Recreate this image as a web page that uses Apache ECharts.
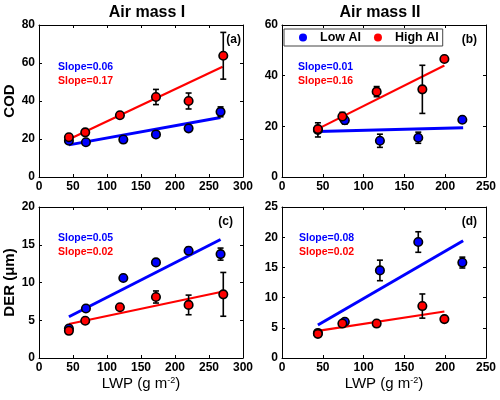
<!DOCTYPE html>
<html><head><meta charset="utf-8">
<script src="https://cdn.jsdelivr.net/npm/echarts@6/dist/echarts.min.js"></script>
<style>html,body{margin:0;padding:0;background:#fff}#c{width:500px;height:400px}</style>
</head><body><div id="c"></div>
<script>
// ---------- data ----------
const panelTitles = ['Air mass I', 'Air mass II'];
const panelTags = ['(a)', '(b)', '(c)', '(d)'];
const yNames = ['COD', 'DER (\u03bcm)'];
const seriesNames = ['Low AI', 'High AI'];

// Panel (a) COD, air mass I
const lowX_a = [44, 69, 124, 172, 220, 267];
const lowY_a = [19.1, 18.3, 19.7, 22.4, 25.6, 34.3];
const lowE_a = [1.0, 0.8, 0.8, 1.0, 1.0, 2.6];
const highX_a = [44, 68, 119, 172, 220, 271];
const highY_a = [20.9, 23.5, 32.5, 42.1, 40.0, 63.8];
const highE_a = [1.0, 1.0, 1.2, 4.0, 4.2, 12.3];
const lowFit_a = [[44, 16.9], [267, 31.3]];
const highFit_a = [[45, 20.0], [270, 58.0]];
const slopes_a = ['Slope=0.06', 'Slope=0.17'];

// Panel (b) COD, air mass II
const lowX_b = [44, 77, 120, 167, 221];
const lowY_b = [18.6, 22.4, 14.3, 15.5, 22.6];
const lowE_b = [2.8, 1.5, 2.6, 2.2, 0.8];
const highX_b = [44, 74, 116, 172, 199];
const highY_b = [18.9, 23.9, 33.7, 34.6, 46.6];
const highE_b = [1.0, 1.6, 2.0, 9.5, 0.8];
const lowFit_b = [[44, 18.0], [222, 19.4]];
const highFit_b = [[44, 19.0], [199, 44.0]];
const slopes_b = ['Slope=0.01', 'Slope=0.16'];

// Panel (c) DER, air mass I
const lowX_c = [44, 69, 124, 172, 220, 267];
const lowY_c = [3.9, 6.55, 10.6, 12.66, 14.2, 13.76];
const lowE_c = [0.3, 0.3, 0.3, 0.3, 0.45, 0.8];
const highX_c = [44, 68, 119, 172, 220, 271];
const highY_c = [3.6, 4.93, 6.72, 8.08, 7.03, 8.43];
const highE_c = [0.3, 0.3, 0.3, 0.8, 1.3, 2.9];
const lowFit_c = [[44, 5.46], [267, 15.7]];
const highFit_c = [[44, 4.5], [269, 8.78]];
const slopes_c = ['Slope=0.05', 'Slope=0.02'];

// Panel (d) DER, air mass II
const lowX_d = [44, 77, 120, 167, 221];
const lowY_d = [4.15, 6.0, 14.5, 19.2, 15.8];
const lowE_d = [0.3, 0.4, 1.7, 1.7, 0.9];
const highX_d = [44, 74, 116, 172, 199];
const highY_d = [4.0, 5.7, 5.7, 8.6, 6.44];
const highE_d = [0.3, 0.3, 0.4, 2.0, 0.3];
const lowFit_d = [[44, 5.46], [222, 19.4]];
const highFit_d = [[44, 4.5], [199, 7.7]];
const slopes_d = ['Slope=0.08', 'Slope=0.02'];

// axis ranges
const xMax = [300, 250, 300, 250];
const xInt = [50, 50, 50, 50];
const yMax = [80, 60, 20, 25];
const yInt = [20, 20, 5, 5];

// ---------- chart ----------
const FONT = 'Liberation Sans, Arial, sans-serif';
const BLUE = '#0000ff', RED = '#ff0000';
const panels = [
  [lowX_a, lowY_a, lowE_a, highX_a, highY_a, highE_a, lowFit_a, highFit_a, slopes_a],
  [lowX_b, lowY_b, lowE_b, highX_b, highY_b, highE_b, lowFit_b, highFit_b, slopes_b],
  [lowX_c, lowY_c, lowE_c, highX_c, highY_c, highE_c, lowFit_c, highFit_c, slopes_c],
  [lowX_d, lowY_d, lowE_d, highX_d, highY_d, highE_d, lowFit_d, highFit_d, slopes_d]
];
const grids = [
  {left: 39, top: 25, width: 204, height: 152},
  {left: 282, top: 25, width: 204, height: 152},
  {left: 39, top: 207, width: 204, height: 151},
  {left: 282, top: 207, width: 204, height: 151}
];

const xAxes = [], yAxes = [], series = [];
const axisLine = {show: true, onZero: false, lineStyle: {color: '#000', width: 1}};
const tick = {show: true, inside: true, length: 3, lineStyle: {color: '#000'}};
const label = {color: '#000', fontWeight: 'bold', fontSize: 12, fontFamily: FONT};

for (let i = 0; i < 4; i++) {
  const bottomRow = i >= 2;
  xAxes.push({
    type: 'value', gridIndex: i, min: 0, max: xMax[i], interval: xInt[i], position: 'bottom',
    axisLine, axisTick: tick, splitLine: {show: false},
    axisLabel: Object.assign({margin: 4}, label),
    name: bottomRow ? 'LWP (g m{s|-2})' : '', nameLocation: 'middle', nameGap: 18,
    nameTextStyle: {color: '#000', fontSize: 15, fontFamily: FONT,
      rich: {s: {fontSize: 9, verticalAlign: 'top', color: '#000', fontFamily: FONT, padding: [0, 0, 6, 0]}}}
  });
  yAxes.push({
    type: 'value', gridIndex: i, min: 0, max: yMax[i], interval: yInt[i], position: 'left',
    axisLine, axisTick: tick, splitLine: {show: false},
    axisLabel: Object.assign({margin: 4}, label),
    name: (i % 2 === 0) ? yNames[bottomRow ? 1 : 0] : '', nameLocation: 'middle', nameGap: 19,
    nameRotate: 90,
    nameTextStyle: {color: '#000', fontSize: 15, fontWeight: 'bold', fontFamily: FONT}
  });
}
for (let i = 0; i < 4; i++) {
  xAxes.push({type: 'value', gridIndex: i, min: 0, max: xMax[i], interval: xInt[i], position: 'top',
    axisLine, axisTick: tick, axisLabel: {show: false}, splitLine: {show: false}});
  yAxes.push({type: 'value', gridIndex: i, min: 0, max: yMax[i], interval: yInt[i], position: 'right',
    axisLine, axisTick: tick, axisLabel: {show: false}, splitLine: {show: false}});
}

function errSeries(i, xs, ys, es) {
  return {
    type: 'custom', xAxisIndex: i, yAxisIndex: i, z: 3, silent: true,
    data: xs.map((x, k) => [x, ys[k] - es[k], ys[k] + es[k]]),
    encode: {x: 0, y: [1, 2]},
    renderItem: function (params, api) {
      const x = api.value(0);
      const p1 = api.coord([x, api.value(1)]);
      const p2 = api.coord([x, api.value(2)]);
      const st = {stroke: '#000', lineWidth: 1.6};
      const c = 3;
      return {type: 'group', children: [
        {type: 'line', shape: {x1: p1[0], y1: p1[1], x2: p2[0], y2: p2[1]}, style: st},
        {type: 'line', shape: {x1: p1[0] - c, y1: p1[1], x2: p1[0] + c, y2: p1[1]}, style: st},
        {type: 'line', shape: {x1: p2[0] - c, y1: p2[1], x2: p2[0] + c, y2: p2[1]}, style: st}
      ]};
    }
  };
}

for (let i = 0; i < 4; i++) {
  const [lx, ly, le, hx, hy, he, lf, hf] = panels[i];
  series.push({type: 'line', name: 'fitLow' + i, xAxisIndex: i, yAxisIndex: i, data: lf,
    symbol: 'none', lineStyle: {color: BLUE, width: 3}, z: 2, silent: true, animation: false});
  series.push({type: 'line', name: 'fitHigh' + i, xAxisIndex: i, yAxisIndex: i, data: hf,
    symbol: 'none', lineStyle: {color: RED, width: 2.2}, z: 2, silent: true, animation: false});
  series.push(errSeries(i, lx, ly, le));
  series.push(errSeries(i, hx, hy, he));
  series.push({type: 'scatter', name: seriesNames[0], xAxisIndex: i, yAxisIndex: i,
    data: lx.map((x, k) => [x, ly[k]]), symbol: 'circle', symbolSize: 8.5, z: 4,
    itemStyle: {color: BLUE, borderColor: '#000', borderWidth: 1.6, opacity: 1}});
  series.push({type: 'scatter', name: seriesNames[1], xAxisIndex: i, yAxisIndex: i,
    data: hx.map((x, k) => [x, hy[k]]), symbol: 'circle', symbolSize: 8.5, z: 5,
    itemStyle: {color: RED, borderColor: '#000', borderWidth: 1.6, opacity: 1}});
}

// annotation texts
const graphics = [];
const titlePos = [[147, 13], [380, 13]];
panelTitles.forEach((t, k) => graphics.push({type: 'text', x: titlePos[k][0], y: titlePos[k][1],
  style: {text: t, fill: '#000', font: 'bold 16px ' + FONT, textAlign: 'center', textVerticalAlign: 'middle'}}));
const tagPos = [[241, 40], [477, 40], [233, 222], [477, 222]];
panelTags.forEach((t, k) => graphics.push({type: 'text', x: tagPos[k][0], y: tagPos[k][1],
  style: {text: t, fill: '#000', font: 'bold 12px ' + FONT, textAlign: 'right', textVerticalAlign: 'middle'}}));
const slopePos = [[58, 67], [298, 67], [58, 238], [299, 238]];
panels.forEach((p, k) => {
  const s = p[8];
  graphics.push({type: 'text', x: slopePos[k][0], y: slopePos[k][1],
    style: {text: s[0], fill: BLUE, font: 'bold 10.5px ' + FONT, textVerticalAlign: 'middle'}});
  graphics.push({type: 'text', x: slopePos[k][0], y: slopePos[k][1] + 14.5,
    style: {text: s[1], fill: RED, font: 'bold 10.5px ' + FONT, textVerticalAlign: 'middle'}});
});

const chart = echarts.init(document.getElementById('c'), null, {renderer: 'canvas'});
chart.setOption({
  animation: false,
  backgroundColor: '#fff',
  grid: grids.map(g => Object.assign({containLabel: false}, g)),
  xAxis: xAxes,
  yAxis: yAxes,
  legend: {
    left: 284, top: 29, orient: 'horizontal', selectedMode: false,
    backgroundColor: '#fff', borderColor: '#444', borderWidth: 1,
    padding: [2, 4, 2, 15], itemWidth: 8, itemHeight: 8, itemGap: 13,
    data: [
      {name: seriesNames[0], icon: 'circle', itemStyle: {color: BLUE, borderWidth: 0}},
      {name: seriesNames[1], icon: 'circle', itemStyle: {color: RED, borderWidth: 0}}
    ],
    formatter: n => '{t|' + n + '}',
    textStyle: {rich: {t: {fontSize: 12.5, fontWeight: 'bold', color: '#000', fontFamily: FONT, padding: [0, 0, 0, 8]}}}
  },
  graphic: graphics,
  series: series
});
</script></body></html>
